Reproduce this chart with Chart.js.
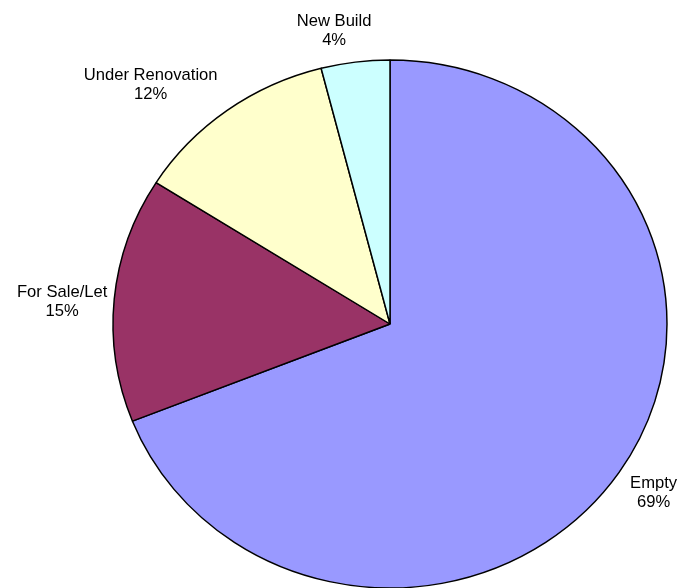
<!DOCTYPE html>
<html lang="en">
<head>
  <meta charset="UTF-8">
  <title>Property status</title>
  <script src="https://cdn.jsdelivr.net/npm/chart.js"></script>
  <style>
    body {
      margin: 0;
      padding: 0;
      background: #fff;
    }
    #wrap {
      width: 679px;
      height: 588px;
      position: relative;
    }
  </style>
</head>
<body>
  <div id="wrap">
    <canvas id="pieChart"></canvas>
  </div>

  <script>
    // Datos del gráfico
    const categories = ['Empty', 'For Sale/Let', 'Under Renovation', 'New Build'];
    const percentages = [69, 15, 12, 4];
    const sliceColors = ['#9999FF', '#993366', '#FFFFCC', '#CCFFFF'];

    // the original pie is a bit wider than tall
    const stretchX = 277 / 264;

    // draw the slices squashed into an ellipse
    const ellipsePlugin = {
      id: 'ellipse',
      beforeDatasetsDraw(chart) {
        const arc = chart.getDatasetMeta(0).data[0];
        const ctx = chart.ctx;
        ctx.save();
        ctx.translate(arc.x, arc.y);
        ctx.scale(stretchX, 1);
        ctx.translate(-arc.x, -arc.y);
      },
      afterDatasetsDraw(chart) {
        chart.ctx.restore();
      }
    };

    // labels "name / pct%" outside each slice
    const labelNudge = [[7, 3], [-19, 6], [-57, 0], [-17, 0]];
    const outsideLabels = {
      id: 'outsideLabels',
      afterDraw(chart) {
        const ctx = chart.ctx;
        const arcs = chart.getDatasetMeta(0).data;
        ctx.save();
        ctx.font = '16.6px "Liberation Sans", Arial, sans-serif';
        ctx.fillStyle = '#000';
        ctx.textAlign = 'center';
        ctx.textBaseline = 'middle';
        arcs.forEach((arc, i) => {
          const mid = (arc.startAngle + arc.endAngle) / 2;
          const r = arc.outerRadius * 1.12;
          const x = arc.x + Math.cos(mid) * r * stretchX + labelNudge[i][0];
          const y = arc.y + Math.sin(mid) * r + labelNudge[i][1];
          ctx.fillText(categories[i], x, y - 9.5);
          ctx.fillText(percentages[i] + '%', x, y + 9.5);
        });
        ctx.restore();
      }
    };

    new Chart(document.getElementById('pieChart'), {
      type: 'pie',
      data: {
        labels: categories,
        datasets: [{
          data: percentages,
          backgroundColor: sliceColors,
          borderColor: '#000',
          borderWidth: 1.4
        }]
      },
      options: {
        responsive: true,
        maintainAspectRatio: false,
        animation: false,
        radius: 264,
        layout: {
          padding: { left: 126, right: 25, top: 60, bottom: 0 }
        },
        plugins: {
          legend: { display: false },
          tooltip: { enabled: false }
        }
      },
      plugins: [ellipsePlugin, outsideLabels]
    });
  </script>
</body>
</html>
